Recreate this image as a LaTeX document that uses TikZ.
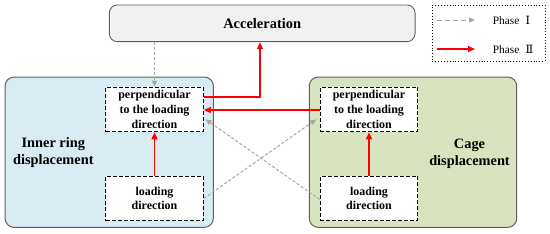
\documentclass[tikz,border=0pt]{standalone}
\usepackage{fontspec}
\setmainfont{Liberation Serif}
\newfontfamily\numfont{DejaVu Serif}
\usetikzlibrary{positioning,arrows.meta}
\definecolor{RingBlue}{RGB}{218,236,243}
\definecolor{CageGreen}{RGB}{216,228,191}
\definecolor{AccGray}{RGB}{241,241,241}
\definecolor{EdgeGray}{RGB}{95,95,95}
\definecolor{DashGray}{RGB}{166,166,166}

\begin{document}
\begin{tikzpicture}[x=1bp, y=-1bp,
    accbox/.style={rectangle, draw=EdgeGray, fill=AccGray, rounded corners=8bp, line width=0.9bp,
                minimum width=305.7bp, minimum height=36.7bp,
                font=\fontsize{14.5}{17}\selectfont\bfseries},
    panel/.style={rectangle, draw=EdgeGray, rounded corners=9bp, line width=1bp,
                minimum height=150.3bp},
    subbox/.style={rectangle, draw=black, fill=white, dash pattern=on 4bp off 2bp, line width=1.2bp,
                minimum width=97.5bp, minimum height=44.4bp, inner sep=1bp,
                align=center, font=\fontsize{12}{14.7}\selectfont\bfseries},
    sidelabel/.style={align=center, font=\fontsize{14.4}{16.5}\selectfont\bfseries},
    legendbox/.style={rectangle, draw=black, dotted, line width=0.9bp,
                minimum width=112.7bp, minimum height=56bp},
    legendtext/.style={anchor=west, inner sep=0pt, font=\fontsize{11.4}{13}\selectfont},
    phaseone/.style={-{Triangle[length=6bp, width=5bp]}, color=DashGray, dash pattern=on 3bp off 2bp, line width=1bp},
    phasetwo/.style={-{Triangle[length=7bp, width=6bp]}, color=red, line width=1.5bp}
]
    \useasboundingbox (0,0) rectangle (550,233);

    \node[accbox] (acc) at (262.2,23.3) {Acceleration};

    \node[panel, fill=RingBlue, minimum width=208.3bp] (ring) at (109.2,152.2) {};
    \node[panel, fill=CageGreen, minimum width=207.4bp] (cage) at (413,152.2) {};

    \node[subbox] (rperp) at (154.5,109.5) {perpendicular\\to the loading\\direction};
    \node[subbox, below=43.3bp of rperp] (rload) {loading\\direction};
    \node[subbox] (cperp) at (369,109.5) {perpendicular\\to the loading\\direction};
    \node[subbox, below=43.3bp of cperp] (cload) {loading\\direction};

    \node[sidelabel] (ringlbl) at (53.3,152.5) {Inner ring\\displacement};
    \node[sidelabel] (cagelbl) at (469.5,153.9) {Cage\\displacement};

    \node[legendbox] (leg) at (488.7,33) {};
    \coordinate (oneA) at (436.7,20);
    \coordinate (oneB) at (475,20);
    \coordinate (twoA) at (436.7,49);
    \coordinate (twoB) at (475,49);
    \node[legendtext] (onetext) at (492.7,20) {Phase\hspace{0.55em}{\numfont Ⅰ}};
    \node[legendtext] (twotext) at (492.7,49) {Phase\hspace{0.55em}{\numfont Ⅱ}};
    \draw[phaseone, dash pattern=on 5bp off 3bp] (oneA) -- (oneB);
    \draw[phasetwo] (twoA) -- (twoB);

    \draw[phaseone] (rperp.north |- acc.south) -- (rperp.north);
    \draw[phasetwo] ([yshift=12.5bp]rperp.east) -| ([xshift=-2.2bp]acc.south);
    \draw[phasetwo] ([yshift=-0.5bp]cperp.west) -- ([yshift=-0.5bp]rperp.east);
    \draw[phasetwo] (rload.north) -- (rperp.south);
    \draw[phasetwo] (cload.north) -- (cperp.south);
    \draw[phaseone] (rload.east) -- ([xshift=-3.3bp, yshift=-9.8bp]cperp.west);
    \draw[phaseone] ([yshift=-1bp]cload.west) -- ([xshift=1.7bp, yshift=-9.8bp]rperp.east);
\end{tikzpicture}
\end{document}
